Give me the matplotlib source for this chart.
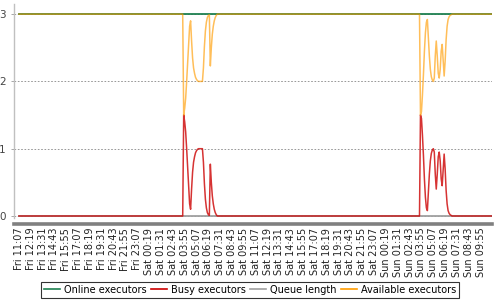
import numpy as np
import matplotlib
matplotlib.use('Agg')
import matplotlib.pyplot as plt
from matplotlib.lines import Line2D


#=======================================================
#               Load statistics (6 min samples)
#=======================================================

# Number of samples on the category axis, one every 6 minutes.
n_points = 481

# Flat levels outside the two nightly builds.
online_level = 3.0
queue_level = 0.0
busy_level = 0.0
avail_level = 3.0

# Nightly build around Sat 03:30.
ev1_start = 166
ev1_busy = [0.0, 1.50, 1.40, 1.25, 1.00, 0.72, 0.45, 0.18, 0.10, 0.40,
            0.65, 0.80, 0.88, 0.94, 0.97, 0.99, 1.00, 1.00, 1.00, 1.00,
            1.00, 0.80, 0.48, 0.25, 0.12, 0.05, 0.02, 0.01, 0.77, 0.50,
            0.30, 0.18, 0.10, 0.05, 0.02, 0.0]
ev1_avail = [3.0, 1.50, 1.60, 1.75, 2.00, 2.28, 2.55, 2.82, 2.90, 2.60,
             2.35, 2.20, 2.12, 2.06, 2.03, 2.01, 2.00, 2.00, 2.00, 2.00,
             2.00, 2.20, 2.52, 2.75, 2.88, 2.95, 2.98, 2.99, 2.23, 2.50,
             2.70, 2.82, 2.90, 2.95, 2.98, 3.0]

# Nightly build around Sun 03:30.
ev2_start = 406
ev2_busy = [0.0, 1.50, 1.45, 1.20, 0.90, 0.55, 0.28, 0.12, 0.08, 0.35,
            0.62, 0.82, 0.93, 0.98, 1.00, 0.95, 0.62, 0.40, 0.62, 0.88,
            0.95, 0.82, 0.55, 0.45, 0.68, 0.92, 0.70, 0.38, 0.18, 0.08,
            0.04, 0.02, 0.01, 0.0]
ev2_avail = [3.0, 1.50, 1.55, 1.80, 2.10, 2.45, 2.72, 2.88, 2.92, 2.65,
             2.38, 2.18, 2.07, 2.02, 2.00, 2.05, 2.38, 2.60, 2.38, 2.12,
             2.05, 2.18, 2.45, 2.55, 2.32, 2.08, 2.30, 2.62, 2.82, 2.92,
             2.96, 2.98, 2.99, 3.0]

# Tick labels, one every 12 samples (72 minutes).
tick_step = 12
tick_labels = ['Fri 11:07', 'Fri 12:19', 'Fri 13:31', 'Fri 14:43',
               'Fri 15:55', 'Fri 17:07', 'Fri 18:19', 'Fri 19:31',
               'Fri 20:43', 'Fri 21:55', 'Fri 23:07', 'Sat 00:19',
               'Sat 01:31', 'Sat 02:43', 'Sat 03:55', 'Sat 05:07',
               'Sat 06:19', 'Sat 07:31', 'Sat 08:43', 'Sat 09:55',
               'Sat 11:07', 'Sat 12:19', 'Sat 13:31', 'Sat 14:43',
               'Sat 15:55', 'Sat 17:07', 'Sat 18:19', 'Sat 19:31',
               'Sat 20:43', 'Sat 21:55', 'Sat 23:07', 'Sun 00:19',
               'Sun 01:31', 'Sun 02:43', 'Sun 03:55', 'Sun 05:07',
               'Sun 06:19', 'Sun 07:31', 'Sun 08:43', 'Sun 09:55']

series_names = ['Online executors', 'Busy executors', 'Queue length',
                'Available executors']


#===================================================
#                 Build the series
#===================================================

x = np.arange(n_points)

online = np.full(n_points, online_level)
queue = np.full(n_points, queue_level)

busy = np.full(n_points, busy_level)
busy[ev1_start:ev1_start + len(ev1_busy)] = ev1_busy
busy[ev2_start:ev2_start + len(ev2_busy)] = ev2_busy

avail = np.full(n_points, avail_level)
avail[ev1_start:ev1_start + len(ev1_avail)] = ev1_avail
avail[ev2_start:ev2_start + len(ev2_avail)] = ev2_avail


#===================================================
#                     Plot
#===================================================

c_online = '#1e8050'
c_busy = '#cc0000'
c_queue = '#a0a0a0'
c_avail = '#ff9c00'

fig = plt.figure(figsize = (5, 3), dpi = 100)
ax = fig.add_axes([0.028, 0.2733, 0.956, 0.7133])

# Spines first: moving a spine resets the tick labels.
for side in ['top', 'right']:
    ax.spines[side].set_visible(False)
ax.spines['left'].set_color('#c0c0c0')
ax.spines['left'].set_linewidth(1.0)
ax.spines['bottom'].set_position(('outward', 4))
ax.spines['bottom'].set_color('#808080')
ax.spines['bottom'].set_linewidth(2.6)

ax.plot(x, online, color = c_online, lw = 1.3, zorder = 3)
ax.plot(x, queue, color = c_queue, lw = 1.3, zorder = 4)
ax.plot(x, busy, color = c_busy, lw = 1.1, alpha = 0.8, zorder = 5)
ax.plot(x, avail, color = c_avail, lw = 1.1, alpha = 0.65, zorder = 6)

ax.set_xlim(-5, 479.5)
ax.set_ylim(-0.03, 3.15)

ax.set_yticks([0, 1, 2, 3])
ax.set_yticklabels(['0', '1', '2', '3'], fontsize = 7.5, color = '#444444')
ax.yaxis.grid(True, linestyle = (0, (2, 2)), color = '#888888', lw = 0.6)
ax.set_axisbelow(True)

ax.set_xticks(np.arange(len(tick_labels)) * tick_step)
ax.set_xticklabels(tick_labels, rotation = 90, fontsize = 7.0,
                   color = '#222222')
ax.tick_params(axis = 'x', length = 0, pad = 3)
ax.tick_params(axis = 'y', length = 2, width = 0.6, color = '#999999',
               pad = 4)

handles = [Line2D([], [], color = c, lw = 1.2)
           for c in [c_online, c_busy, c_queue, c_avail]]
leg = fig.legend(handles, series_names, loc = 'lower center',
                 bbox_to_anchor = (0.5, 0.008), ncol = 4, fontsize = 7.0,
                 frameon = True, fancybox = False, handlelength = 1.6,
                 handletextpad = 0.4, columnspacing = 0.5,
                 borderpad = 0.3, borderaxespad = 0.0)
leg.get_frame().set_edgecolor('black')
leg.get_frame().set_linewidth(0.8)

plt.savefig('out.png', dpi = 100)
